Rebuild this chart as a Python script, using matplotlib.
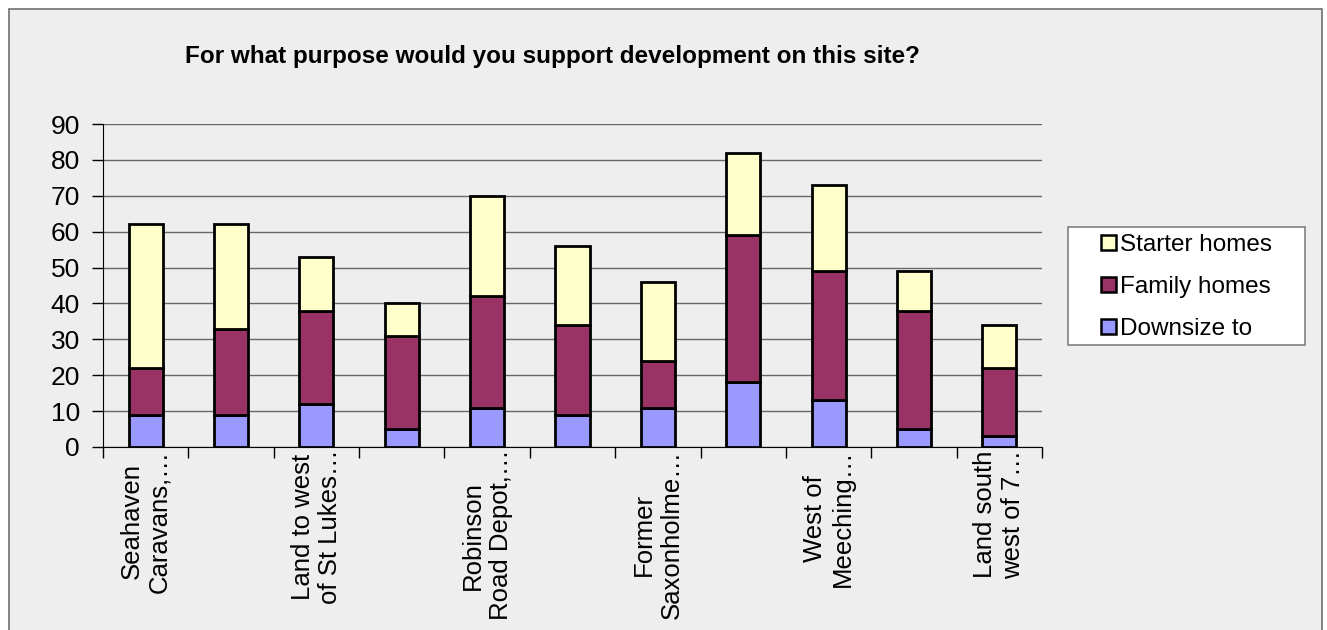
import matplotlib
matplotlib.use("Agg")
import matplotlib.pyplot as plt
from matplotlib.patches import Rectangle, Patch
import numpy as np

plt.rcParams['font.family'] = ['Liberation Sans', 'DejaVu Sans']

# site labels, Excel only showed every other one
sites = ["Seahaven\nCaravans,\u2026", "", "Land to west\nof St Lukes\u2026", "",
         "Robinson\nRoad Depot,\u2026", "", "Former\nSaxonholme\u2026", "",
         "West of\nMeeching\u2026", "", "Land south\nwest of 7\u2026"]
downsize = [9, 9, 12, 5, 11, 9, 11, 18, 13, 5, 3]
family = [13, 24, 26, 26, 31, 25, 13, 41, 36, 33, 19]
starter = [40, 29, 15, 9, 28, 22, 22, 23, 24, 11, 12]
y_ticks = [0, 10, 20, 30, 40, 50, 60, 70, 80, 90]

c_down = "#9999FF"
c_fam = "#993366"
c_start = "#FFFFCC"
bg = "#EEEEEE"

W, H = 1327, 630
fig = plt.figure(figsize=(W / 100, H / 100), dpi=100)
fig.patch.set_facecolor("white")
# grey chart area with border (bottom edge off the image)
fig.patches.append(Rectangle((9/W, -0.02), (1322-9)/W, 1.02 - 9/H,
                             transform=fig.transFigure, facecolor=bg,
                             edgecolor="#707070", linewidth=1.2, zorder=-5))
# legend box
fig.patches.append(Rectangle((1068/W, 1-345/H), (1305-1068)/W, (345-227)/H,
                             transform=fig.transFigure, facecolor="white",
                             edgecolor="#808080", linewidth=1.2, zorder=-4))

ax = fig.add_axes([103/W, 1-447/H, (1042-103)/W, (447-124)/H])
ax.set_facecolor(bg)

x = np.arange(len(downsize))
w = 0.4
lw = 2.0
ax.bar(x, downsize, w, color=c_down, edgecolor="black", linewidth=lw, zorder=3)
ax.bar(x, family, w, bottom=downsize, color=c_fam, edgecolor="black", linewidth=lw, zorder=3)
base2 = np.array(downsize) + np.array(family)
ax.bar(x, starter, w, bottom=base2, color=c_start, edgecolor="black", linewidth=lw, zorder=3)

ax.set_xlim(-0.5, len(downsize) - 0.5)
ax.set_ylim(0, 90)
ax.set_yticks(y_ticks)
ax.tick_params(axis='y', labelsize=19, length=8, width=1, direction='out', pad=8.5)
ax.yaxis.grid(True, color="#666666", linewidth=1, zorder=1)

# ticks between categories, labels centred under the bars
ax.set_xticks(np.arange(len(downsize) + 1) - 0.5)
ax.set_xticklabels([])
ax.tick_params(axis='x', which='major', length=8, width=1, direction='out')
ax.set_xticks(x, minor=True)
ax.set_xticklabels(sites, minor=True, rotation=90, fontsize=18.5,
                   ha='center', va='top', multialignment='center', linespacing=1.2)
ax.tick_params(axis='x', which='minor', length=0, pad=2)

for s in ['top', 'right']:
    ax.spines[s].set_visible(False)
ax.spines['left'].set_color("black")
ax.spines['bottom'].set_color("black")

fig.text(552/W, 1-56/H, "For what purpose would you support development on this site?",
         ha='center', va='center', fontsize=17.5, fontweight='bold')

handles = [Patch(facecolor=c_start, edgecolor="black", linewidth=1.8, label="Starter homes"),
           Patch(facecolor=c_fam, edgecolor="black", linewidth=1.8, label="Family homes"),
           Patch(facecolor=c_down, edgecolor="black", linewidth=1.8, label="Downsize to")]
leg = fig.legend(handles=handles, loc='upper left', bbox_to_anchor=(1101/W, 1-234/H),
                 fontsize=17.5, frameon=False, borderaxespad=0, borderpad=0,
                 handlelength=0.6, handleheight=0.6, handletextpad=0.2,
                 labelspacing=0.82)

fig.savefig("out.png", dpi=100, facecolor=fig.get_facecolor())
